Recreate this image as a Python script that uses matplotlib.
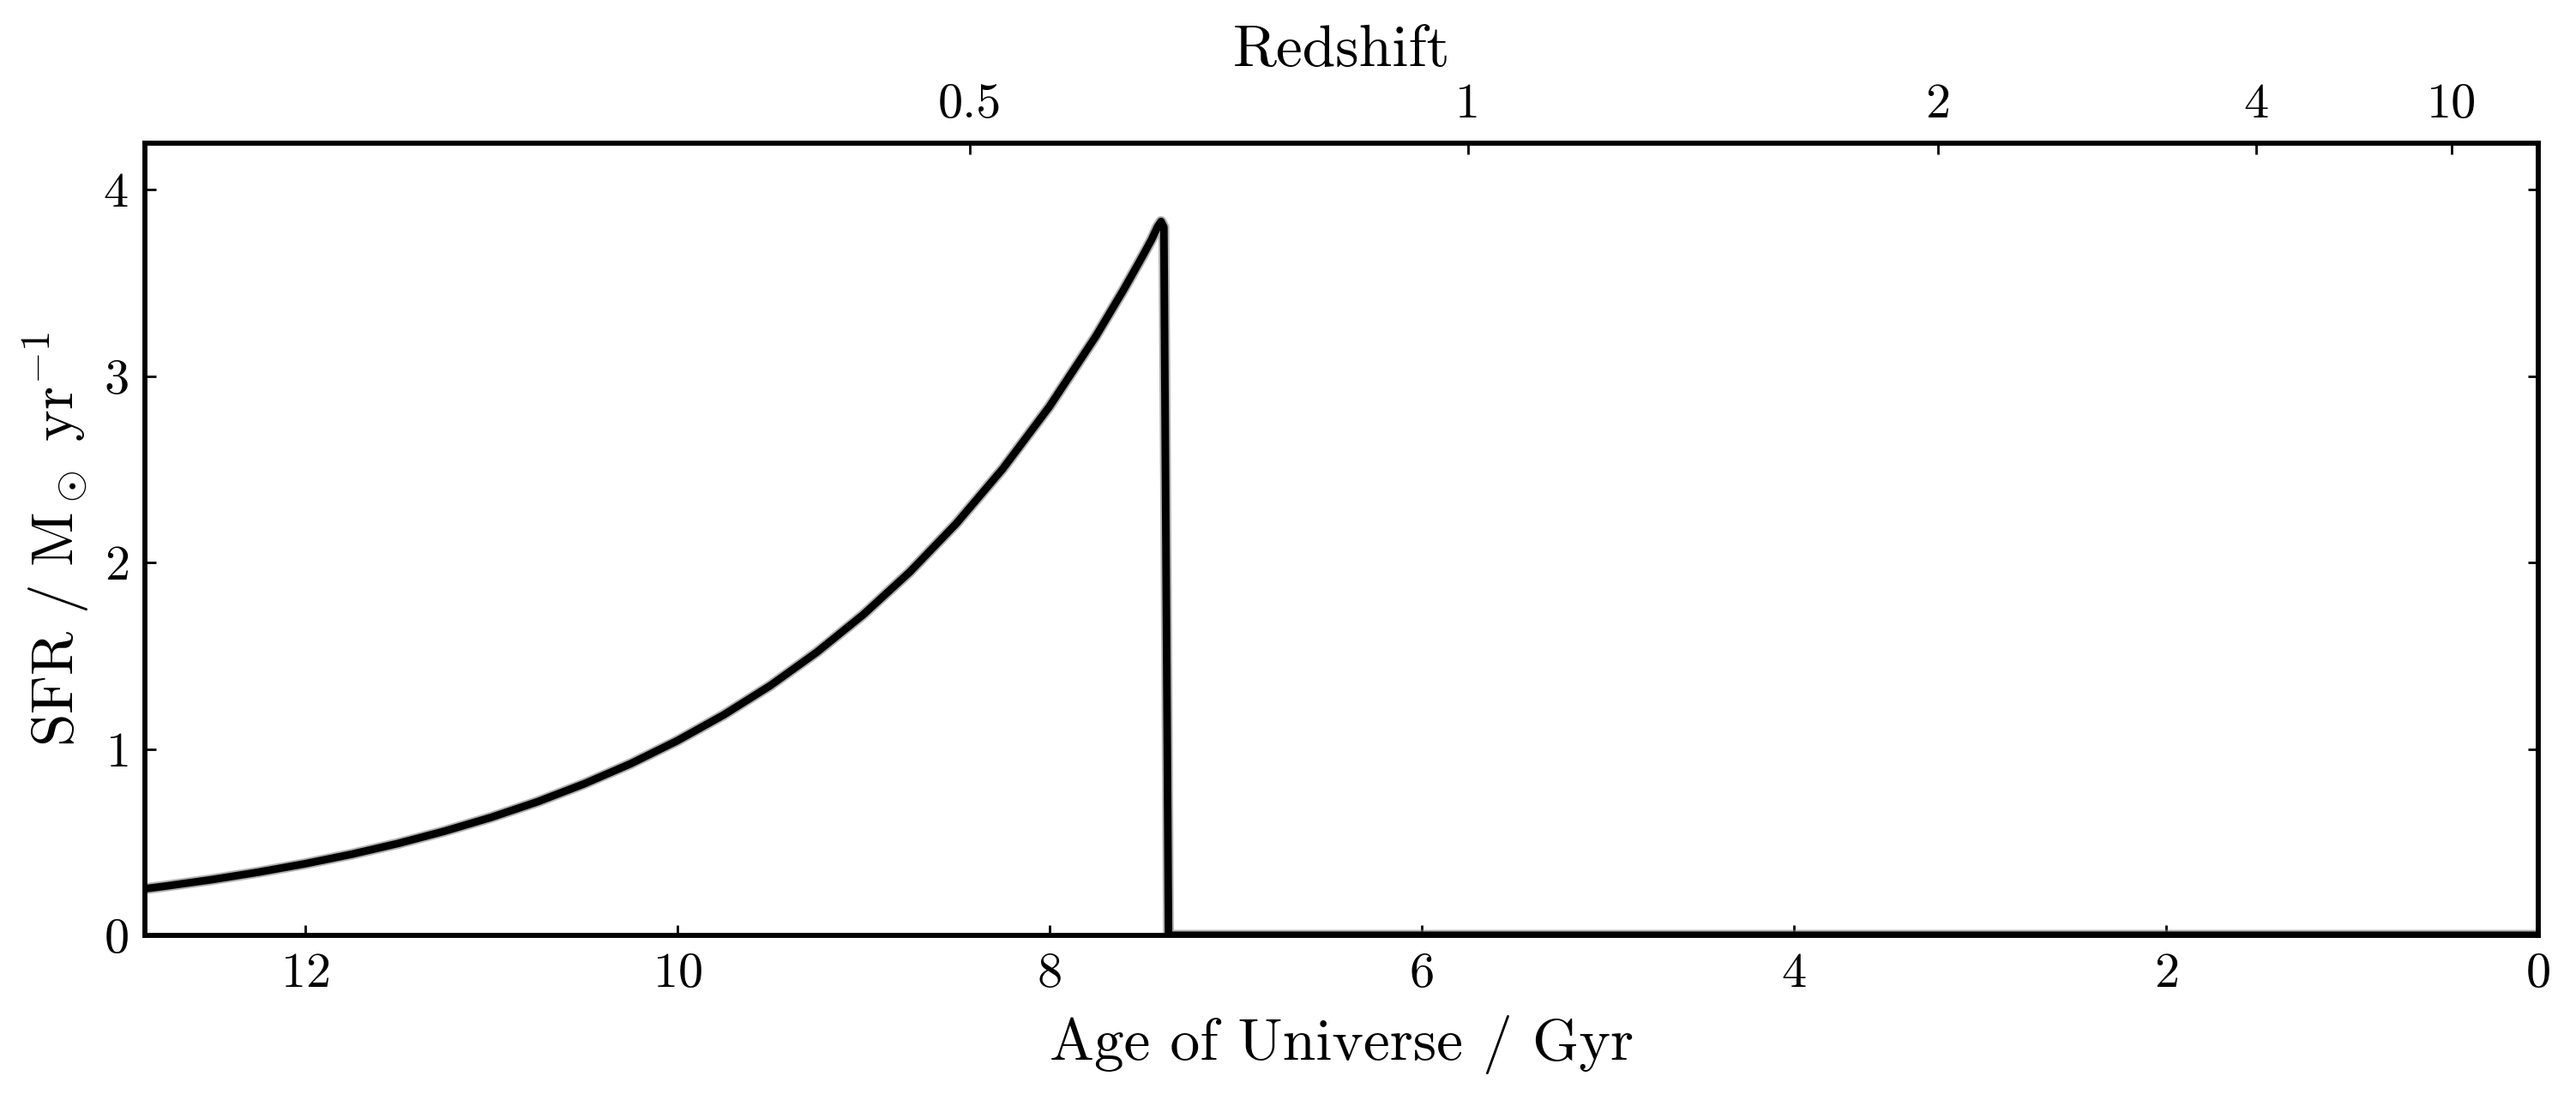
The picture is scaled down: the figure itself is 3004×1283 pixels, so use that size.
import numpy as np
import matplotlib
matplotlib.use("Agg")
import matplotlib.pyplot as plt

plt.rcParams["font.family"] = "serif"
plt.rcParams["font.serif"] = ["cmr10"]
plt.rcParams["mathtext.fontset"] = "cm"
plt.rcParams["axes.formatter.use_mathtext"] = True
plt.rcParams["axes.unicode_minus"] = False

# star formation history (age of universe in Gyr, SFR in Msun/yr)
age = [12.86, 12.75, 12.5, 12.25, 12.0, 11.75, 11.5, 11.25, 11.0, 10.75,
       10.5, 10.25, 10.0, 9.75, 9.5, 9.25, 9.0, 8.75, 8.5, 8.25,
       8.0, 7.75, 7.6, 7.5, 7.45, 7.42, 7.40, 7.385, 7.36, 3.0, 0.0]
sfr = [0.250, 0.264, 0.299, 0.339, 0.384, 0.435, 0.493, 0.559, 0.633, 0.717,
       0.813, 0.921, 1.044, 1.183, 1.340, 1.519, 1.721, 1.950, 2.210, 2.504,
       2.837, 3.215, 3.466, 3.643, 3.735, 3.800, 3.830, 3.800, 0.0, 0.0, 0.0]

# redshift ticks on top axis
z_ticks = [0.5, 1, 2, 4, 10]
z_labels = ["0.5", "1", "2", "4", "10"]

age_max = 12.86
sfr_max = 4.25


def age_at_z(z, H0=70.0, Om=0.3):
    # flat LCDM age of universe in Gyr
    OL = 1.0 - Om
    hubble_time = 977.8 / H0
    arg = np.sqrt(OL / Om) * (1.0 + np.asarray(z)) ** -1.5
    return 2.0 * hubble_time / (3.0 * np.sqrt(OL)) * np.arcsinh(arg)


fig = plt.figure(figsize=(15.02, 6.415), dpi=200)
ax = fig.add_axes([0.0563, 0.1497, 0.929, 0.7201])

ax.plot(age, sfr, color="gray", lw=4.6, alpha=0.6, zorder=3)
ax.plot(age, sfr, color="black", lw=3.2, zorder=4)

ax.set_xlim(age_max, 0)
ax.set_ylim(0, sfr_max)
ax.set_xticks([12, 10, 8, 6, 4, 2, 0])
ax.set_yticks([0, 1, 2, 3, 4])

for s in ax.spines.values():
    s.set_linewidth(2.0)

ax.tick_params(axis="x", which="major", direction="in", length=4.5, width=1.0,
               labelsize=21, pad=7, top=False)
ax.tick_params(axis="y", which="major", direction="in", length=4.5, width=1.0,
               labelsize=21, pad=7, right=True)
ax.minorticks_off()

ax.set_xlabel("Age of Universe / Gyr", fontsize=25, labelpad=8)
ax.set_ylabel(r"$\mathrm{SFR\ /\ M_\odot\ yr^{-1}}$", fontsize=25, labelpad=5)

ax2 = ax.twiny()
ax2.set_xlim(ax.get_xlim())
ax2.set_xticks(age_at_z(z_ticks))
ax2.set_xticklabels(z_labels)
ax2.tick_params(axis="x", direction="in", length=4.5, width=1.0,
                labelsize=21, pad=7)
ax2.minorticks_off()
ax2.set_xlabel("Redshift", fontsize=25, labelpad=7)
for s in ax2.spines.values():
    s.set_linewidth(2.0)

fig.savefig("out.png", dpi=200)
